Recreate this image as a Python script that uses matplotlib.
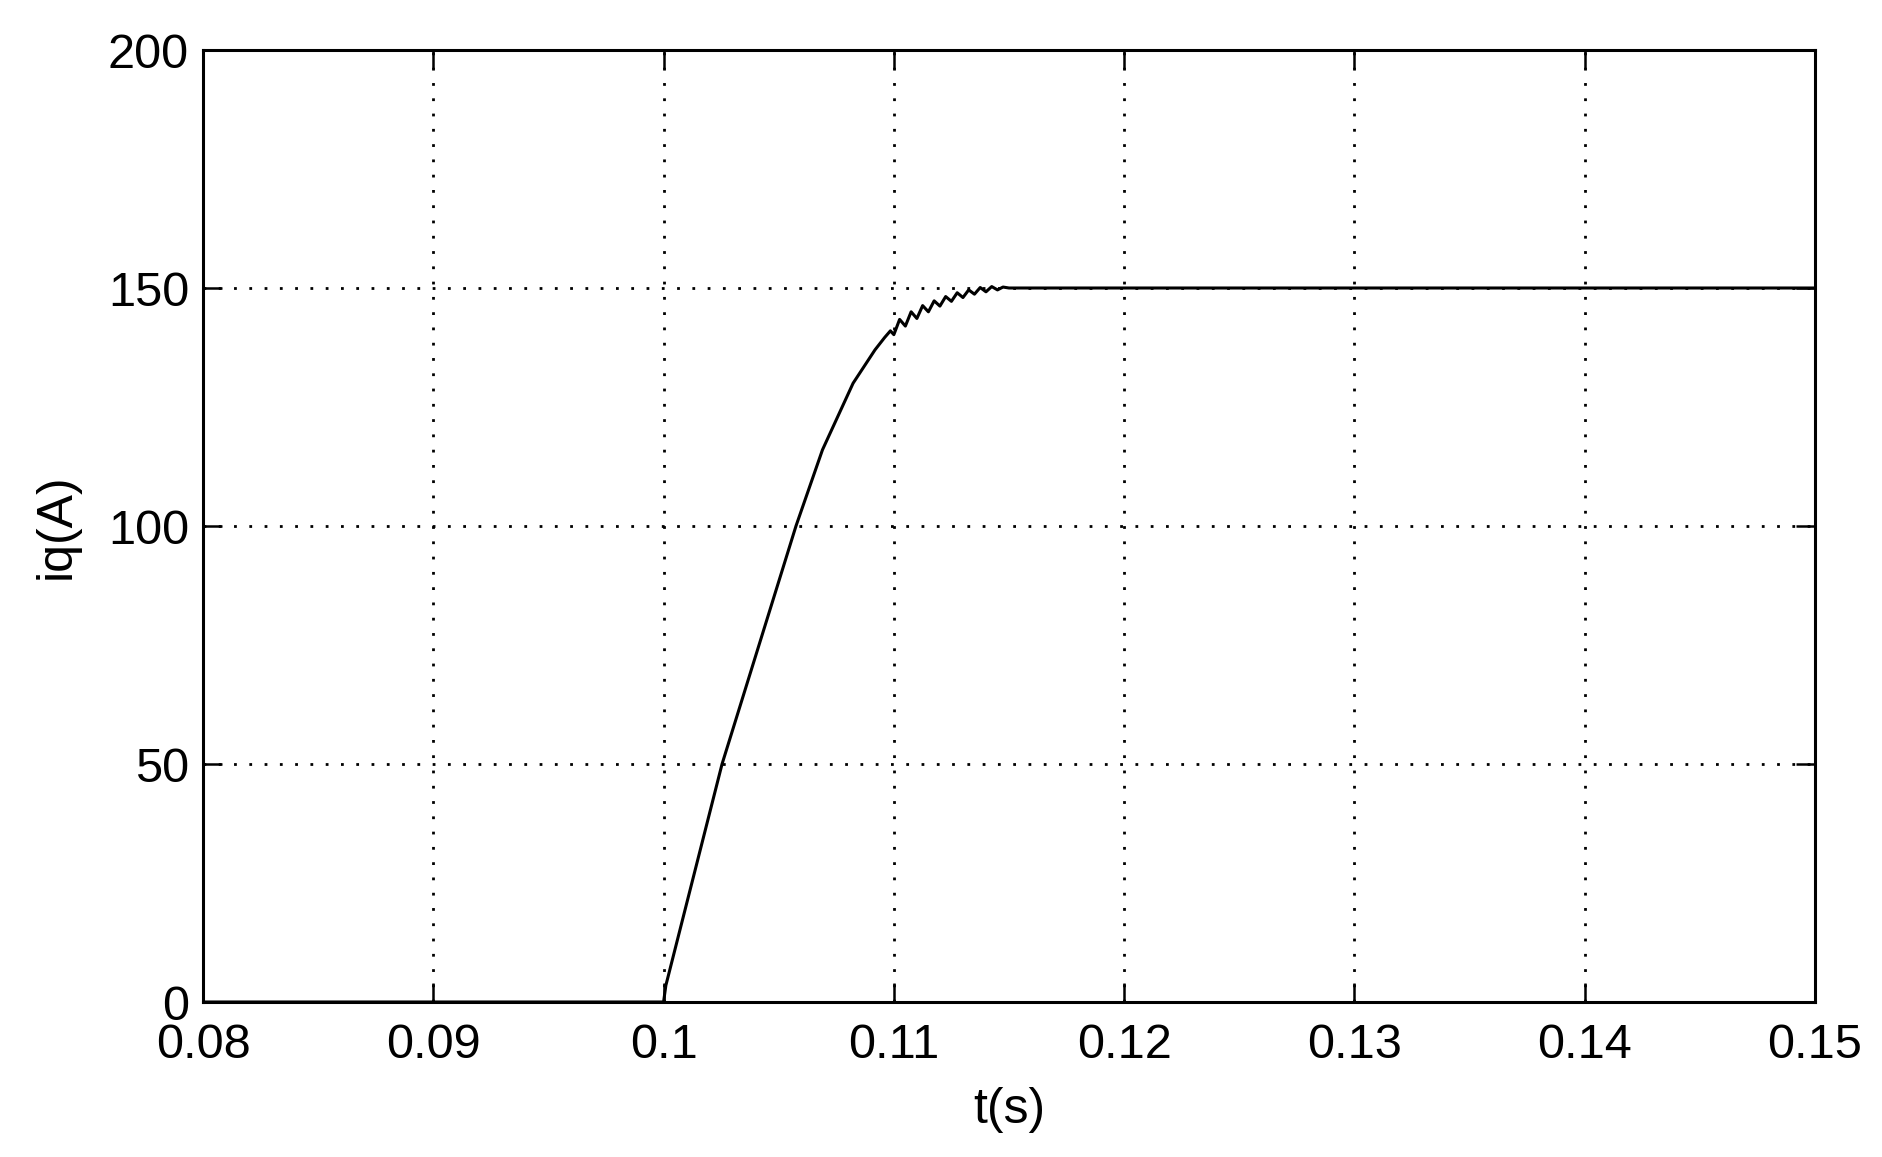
import matplotlib
matplotlib.use("Agg")
import matplotlib.pyplot as plt

plt.rcParams['font.family'] = ['Liberation Sans', 'DejaVu Sans']

# Data
t_vals = [0.08, 0.0999, 0.1000, 0.1001, 0.10254, 0.10575, 0.1069, 0.10823, 0.10918,
          0.10960, 0.10985, 0.11000, 0.11025, 0.11050, 0.11075, 0.11100, 0.11125,
          0.11150, 0.11175, 0.11200, 0.11225, 0.11250, 0.11275, 0.11300, 0.11325,
          0.11350, 0.11375, 0.11400, 0.11425, 0.11450, 0.11474, 0.1150, 0.15]
iq_vals = [0.0, 0.0, 0.0, 3.5, 50.0, 100.0, 116.0, 130.0, 137.0,
           139.6, 141.0, 140.2, 143.4, 142.0, 145.0, 143.6, 146.3,
           145.0, 147.3, 146.2, 148.2, 147.2, 149.0, 148.0, 149.6,
           148.7, 150.1, 149.2, 150.3, 149.6, 150.2, 150.0, 150.0]

x_ticks = [0.08, 0.09, 0.1, 0.11, 0.12, 0.13, 0.14, 0.15]
x_tick_labels = ['0.08', '0.09', '0.1', '0.11', '0.12', '0.13', '0.14', '0.15']
y_ticks = [0, 50, 100, 150, 200]
y_tick_labels = ['0', '50', '100', '150', '200']

W, H = 1882, 1157
fig = plt.figure(figsize=(W / 100, H / 100), dpi=100)
left, right, top, bottom = 203, 1815, 50, 1002
ax = fig.add_axes([left / W, 1 - bottom / H, (right - left) / W, (bottom - top) / H])

ax.plot(t_vals, iq_vals, color='black', linewidth=2.2)

ax.set_xlim(0.08, 0.15)
ax.set_ylim(0, 200)
ax.set_xticks(x_ticks)
ax.set_xticklabels(x_tick_labels)
ax.set_yticks(y_ticks)
ax.set_yticklabels(y_tick_labels)

ax.grid(True, color='black', linestyle=(0, (1, 4.5)), linewidth=2.0)
ax.tick_params(direction='in', length=14, width=1.8, labelsize=35,
               top=True, right=True)
ax.tick_params(axis='x', pad=15)
ax.tick_params(axis='y', pad=10)
for s in ax.spines.values():
    s.set_linewidth(2.2)
    s.set_color('black')

ax.set_xlabel('t(s)', fontsize=36, labelpad=14)
ax.set_ylabel('iq(A)', fontsize=36, labelpad=20)

fig.savefig('out.png', dpi=100)
